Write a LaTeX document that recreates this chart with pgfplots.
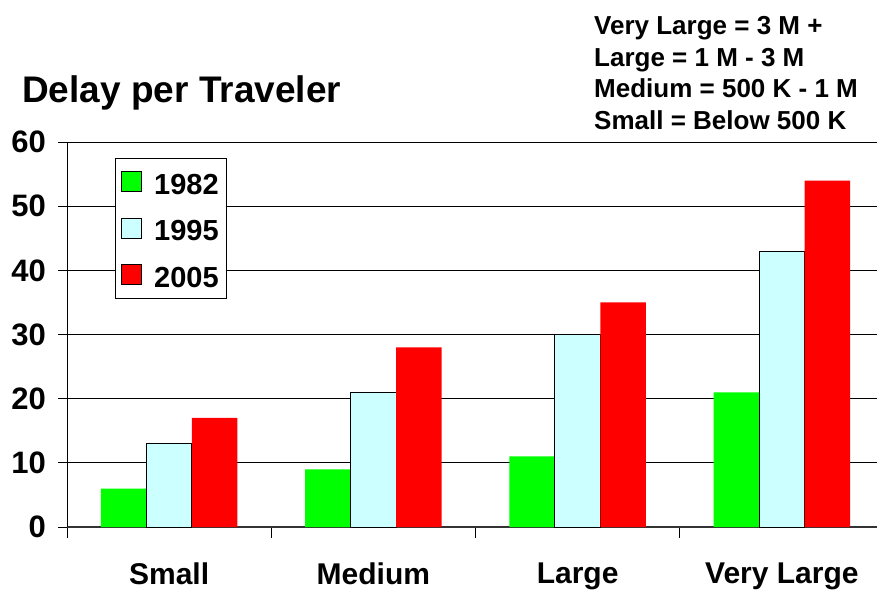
\documentclass[border=0pt]{standalone}
\usepackage{fontspec}
\setmainfont{Liberation Sans}
\usepackage{pgfplots}
\pgfplotsset{compat=1.18}
\definecolor{cgreen}{RGB}{0,255,0}
\definecolor{ccyan}{RGB}{204,255,255}
\definecolor{cred}{RGB}{255,0,0}
\begin{document}
\begin{tikzpicture}
\path[use as bounding box] (0,0) rectangle (877pt,592pt);
\begin{axis}[
  at={(67pt,65pt)}, anchor=south west,
  scale only axis, width=817pt, height=385pt,
  xmin=-0.5, xmax=3.5, ymin=0, ymax=60,
  ybar=0pt, bar width=45.5pt,
  axis lines*=left, axis line style={-, line width=0.8pt},
  x axis line style={line width=1.6pt, black!80},
  xtick={0,1,2,3}, xticklabels={Small,Medium,Large,Very Large},
  major x tick style={draw=none},
  minor xtick={-0.5,0.5,1.5,2.5},
  minor tick length=11pt, major tick length=9pt,
  tick align=outside,
  tick style={black, line width=0.8pt},
  ytick={0,10,...,60},
  ymajorgrids, grid style={black, line width=0.8pt},
  /pgf/number format/assume math mode=true,
  yticklabel style={font=\fontsize{31}{32}\selectfont\bfseries, xshift=-8.5pt},
  xticklabel style={font=\fontsize{30}{32}\selectfont\bfseries, yshift=-23pt},
  legend style={at={(0.0587,0.958)}, anchor=north west, draw=black, line width=0.8pt,
    font=\fontsize{29}{30}\selectfont\bfseries, row sep=15pt,
    nodes={text height=26pt},
    inner xsep=6pt, inner ysep=7.5pt},
  legend cell align=left,
  legend image code/.code={\draw[#1] (0pt,-10pt) rectangle (20pt,10pt); \path (30pt,0pt);},
  clip=false,
]
\addplot[fill=cgreen, draw=none] coordinates {(0,6) (1,9) (2,11) (3,21)};
\addplot[fill=ccyan, draw=black, line width=0.8pt] coordinates {(0,13) (1,21) (2,30) (3,43)};
\addplot[fill=cred, draw=none] coordinates {(0,17) (1,28) (2,35) (3,54)};
\legend{1982,1995,2005}
\end{axis}
\node[anchor=base west, font=\fontsize{37}{40}\selectfont\bfseries, inner sep=0pt] at (22pt,489pt) {Delay per Traveler};
\node[anchor=north west, align=left, inner sep=0pt, font=\fontsize{26}{31.5}\selectfont\bfseries] at (594pt,575.5pt)
  {Very Large = 3 M +\\Large = 1 M - 3 M\\Medium = 500 K - 1 M\\Small = Below 500 K};
\end{tikzpicture}
\end{document}
